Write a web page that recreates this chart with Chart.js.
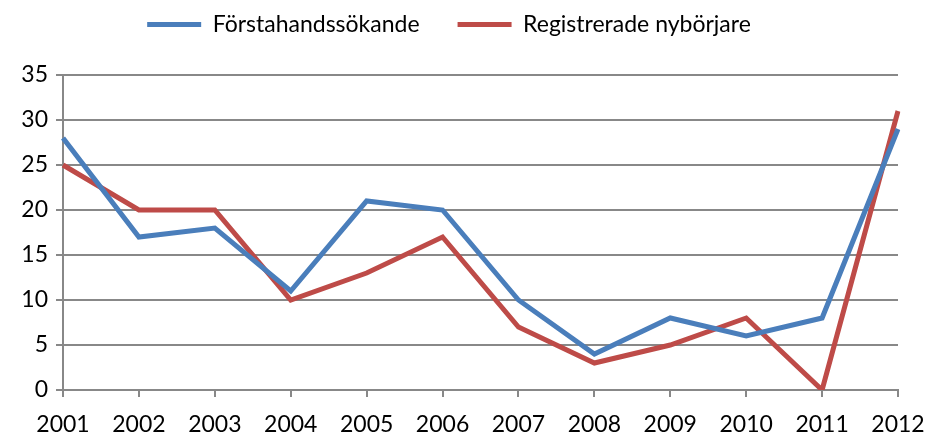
<!DOCTYPE html>
<html>
<head>
<meta charset="utf-8">
<script src="https://cdn.jsdelivr.net/npm/chart.js@4"></script>
<style>
  html, body { margin: 0; padding: 0; background: #fff; }
  #wrap { width: 927px; height: 437px; }
</style>
</head>
<body>
<div id="wrap"><canvas id="chart" width="927" height="437"></canvas></div>
<script>
// Data
const years = ['2001', '2002', '2003', '2004', '2005', '2006', '2007', '2008', '2009', '2010', '2011', '2012'];
const forstahand = [28, 17, 18, 11, 21, 20, 10, 4, 8, 6, 8, 29];
const nyborjare = [25, 20, 20, 10, 13, 17, 7, 3, 5, 8, 0, 31];
const yTicks = [0, 5, 10, 15, 20, 25, 30, 35];

const font = "Lato, 'Open Sans', sans-serif";

// push the plot area down below the legend
const legendGap = {
    id: 'legendGap',
    beforeInit(chart) {
        const fit = chart.legend.fit;
        chart.legend.fit = function() {
            fit.bind(chart.legend)();
            this.height += 29;
        };
    }
};

new Chart(document.getElementById('chart'), {
    type: 'line',
    data: {
        labels: years,
        datasets: [{
            label: 'Förstahandssökande',
            data: forstahand,
            borderColor: '#4a7ebb',
            backgroundColor: '#4a7ebb',
            borderWidth: 5,
            pointRadius: 0,
            tension: 0
        }, {
            label: 'Registrerade nybörjare',
            data: nyborjare,
            borderColor: '#be4b48',
            backgroundColor: '#be4b48',
            borderWidth: 5,
            pointRadius: 0,
            tension: 0
        }]
    },
    options: {
        responsive: false,
        animation: false,
        layout: { padding: { top: -25, right: 29, left: 0, bottom: 0 } },
        plugins: {
            legend: {
                position: 'top',
                labels: {
                    usePointStyle: true,
                    pointStyle: 'line',
                    pointStyleWidth: 54,
                    boxWidth: 54,
                    boxHeight: 6,
                    padding: 38,
                    color: '#000',
                    font: { family: font, size: 23 }
                }
            },
            tooltip: { enabled: false }
        },
        scales: {
            x: {
                offset: false,
                grid: {
                    drawOnChartArea: false,
                    drawTicks: true,
                    tickLength: 7,
                    color: '#888',
                    lineWidth: 2
                },
                border: { color: '#888', width: 2 },
                ticks: {
                    color: '#000',
                    font: { family: font, size: 23 },
                    maxRotation: 0,
                    padding: 14,
                    autoSkip: false
                },
                afterFit: function(scale) {
                    scale.height = 47;
                    scale.paddingLeft = 0;
                    scale.paddingRight = 0;
                }
            },
            y: {
                min: 0,
                max: 35,
                afterBuildTicks: function(scale) {
                    scale.ticks = yTicks.map(v => ({ value: v }));
                },
                grid: {
                    color: '#888',
                    lineWidth: 2,
                    tickLength: 7
                },
                border: { color: '#888', width: 2 },
                ticks: {
                    color: '#000',
                    font: { family: font, size: 23 },
                    padding: 8
                },
                afterFit: function(scale) { scale.width = 63; }
            }
        }
    },
    plugins: [legendGap]
});
</script>
</body>
</html>
